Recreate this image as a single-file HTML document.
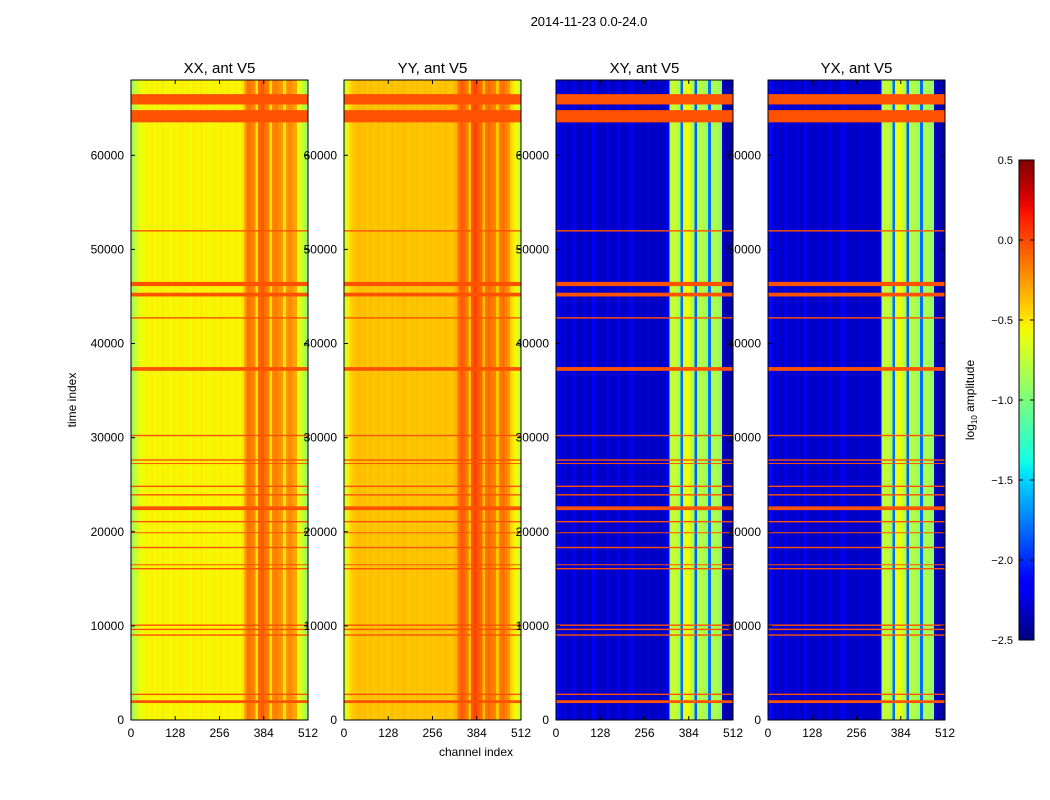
<!DOCTYPE html>
<html><head><meta charset="utf-8">
<style>
html,body{margin:0;padding:0;background:#fff;}
svg{display:block;font-family:"Liberation Sans","DejaVu Sans",sans-serif;}
</style></head>
<body>
<svg id="chart" width="1050" height="800" viewBox="0 0 1050 800" xmlns="http://www.w3.org/2000/svg">
<text x="589" y="26" font-size="13" text-anchor="middle">2014-11-23 0.0-24.0</text>
<text transform="translate(76,400) rotate(-90)" font-size="12" text-anchor="middle">time index</text>
<text x="476" y="756" font-size="12" text-anchor="middle">channel index</text>
<g id="panels"></g>
<g id="labels"></g>
<g id="cbar"></g>
</svg>
<script>
const panelTitles = ["XX, ant V5","YY, ant V5","XY, ant V5","YX, ant V5"];
const xTicks = [0,128,256,384,512];
const yTicks = [0,10000,20000,30000,40000,50000,60000];
const cbarTicks = [-2.5,-2.0,-1.5,-1.0,-0.5,0.0,0.5];
const colXX = [-0.88,-0.75,-0.66,-0.60,-0.57,-0.54,-0.56,-0.53,
 -0.57,-0.54,-0.56,-0.52,-0.56,-0.54,-0.57,-0.53,
 -0.56,-0.54,-0.52,-0.56,-0.54,-0.57,-0.53,-0.54,
 -0.56,-0.52,-0.56,-0.54,-0.57,-0.53,-0.54,-0.56,
 -0.52,-0.56,-0.54,-0.53,-0.56,-0.52,-0.54,-0.56,
 -0.48,-0.22,-0.12,-0.16,-0.20,-0.50,-0.10,-0.05,
 -0.12,-0.18,-0.48,-0.20,-0.16,-0.22,-0.25,-0.50,
 -0.25,-0.20,-0.26,-0.30,-0.58,-0.66,-0.78,-0.90];
const colYY = [-0.68,-0.52,-0.44,-0.40,-0.38,-0.36,-0.39,-0.37,
 -0.40,-0.36,-0.39,-0.41,-0.37,-0.40,-0.38,-0.41,
 -0.39,-0.37,-0.41,-0.38,-0.40,-0.36,-0.39,-0.41,
 -0.38,-0.40,-0.37,-0.41,-0.39,-0.38,-0.40,-0.37,
 -0.41,-0.39,-0.38,-0.40,-0.37,-0.39,-0.41,-0.38,
 -0.34,-0.14,-0.06,-0.10,-0.16,-0.40,-0.04,0.02,
 -0.06,-0.10,-0.38,-0.14,-0.10,-0.16,-0.18,-0.40,
 -0.16,-0.12,-0.18,-0.24,-0.45,-0.52,-0.60,-0.70];
const colXY = [-2.1,-2.25,-2.3,-2.25,-2.33,-2.3,-2.2,-2.3,
 -2.33,-2.3,-2.25,-2.33,-2.3,-2.15,-2.25,-2.33,
 -2.3,-2.33,-2.25,-2.3,-2.33,-2.3,-2.2,-2.3,
 -2.33,-2.3,-2.25,-2.2,-2.33,-2.3,-2.3,-2.33,
 -2.3,-2.25,-2.33,-2.3,-2.3,-2.33,-2.3,-2.3,
 -2.2,-0.80,-0.72,-0.75,-0.85,-1.8,-0.62,-0.58,
 -0.70,-0.85,-1.85,-0.82,-0.78,-0.85,-0.90,-1.8,
 -0.85,-0.80,-0.88,-0.92,-2.3,-2.38,-2.38,-2.4];
const colYX = [-2.1,-2.2,-2.3,-2.25,-2.3,-2.33,-2.2,-2.3,
 -2.3,-2.33,-2.25,-2.3,-2.33,-2.15,-2.3,-2.3,
 -2.33,-2.3,-2.25,-2.33,-2.3,-2.3,-2.2,-2.33,
 -2.3,-2.33,-2.25,-2.2,-2.3,-2.3,-2.33,-2.3,
 -2.33,-2.25,-2.3,-2.3,-2.33,-2.3,-2.3,-2.33,
 -2.2,-0.80,-0.74,-0.75,-0.83,-1.8,-0.62,-0.60,
 -0.70,-0.83,-1.85,-0.82,-0.80,-0.85,-0.90,-1.8,
 -0.85,-0.82,-0.88,-0.94,-2.3,-2.38,-2.38,-2.4];
const flagStart = [65400,63500,51900,46100,45000,42650,37100,30150,27550,27200,24750,23850,22300,21000,19850,18250,16450,16000,10000,9550,8950,2650,1800];
const flagEnd   = [66500,64800,52050,46550,45400,42800,37500,30300,27700,27300,24900,24000,22700,21150,19950,18400,16550,16150,10150,9700,9100,2800,2100];
const flagValue = -0.03;

const NS="http://www.w3.org/2000/svg";
const panelX=[131,344,556,768], PW=177, PT=80, PH=640;
const CH_MAX=512, T_MAX=68000, VMIN=-2.5, VMAX=0.5;
const cols=[colXX,colYY,colXY,colYX];
function el(tag,attrs,parent){const e=document.createElementNS(NS,tag);for(const k in attrs)e.setAttribute(k,attrs[k]);parent.appendChild(e);return e;}
function clamp(v){return Math.max(0,Math.min(1,v));}
function interp(pts,t){for(let i=1;i<pts.length;i++){if(t<=pts[i][0]){const a=pts[i-1],b=pts[i];return a[1]+(b[1]-a[1])*(t-a[0])/(b[0]-a[0]);}}return pts[pts.length-1][1];}
const JR=[[0,0],[0.35,0],[0.66,1],[0.89,1],[1,0.5]];
const JG=[[0,0],[0.125,0],[0.375,1],[0.64,1],[0.91,0],[1,0]];
const JB=[[0,0.5],[0.11,1],[0.34,1],[0.65,0],[1,0]];
function jet(v){const t=clamp((v-VMIN)/(VMAX-VMIN));
 const r=interp(JR,t),g=interp(JG,t),b=interp(JB,t);
 return `rgb(${Math.round(r*255)},${Math.round(g*255)},${Math.round(b*255)})`;}
function xScale(p,ch){return panelX[p]+ch/CH_MAX*PW;}
function yScale(t){return PT+PH-t/T_MAX*PH;}

const labels=document.getElementById('labels');
const panels=document.getElementById('panels');
for(let p=0;p<4;p++){
 for(const t of yTicks){
  const lbl=el('text',{x:panelX[p]-7,y:yScale(t)+4,'font-size':12,'text-anchor':'end'},labels);
  
  
  lbl.textContent=t;
 }
 for(const c of xTicks){
  const lbl=el('text',{x:xScale(p,c),y:PT+PH+17,'font-size':12,'text-anchor':'middle'},labels);
  
  
  lbl.textContent=c;
 }
}
for(let p=0;p<4;p++){
 const g=el('g',{},panels);
 
 
 const ttl=el('text',{x:panelX[p]+PW/2,y:PT-7,'font-size':15,'text-anchor':'middle'},g);
 
 
 ttl.textContent=panelTitles[p];
 const arr=cols[p], bw=CH_MAX/arr.length;
 arr.forEach((v,i)=>{
  const x0=xScale(p,i*bw), x1=xScale(p,(i+1)*bw);
  const r=el('rect',{x:x0,y:PT,width:x1-x0+0.4,height:PH,fill:jet(v),'shape-rendering':'crispEdges'},g);
  
  
 });
 flagStart.forEach((s,i)=>{
  const y0=yScale(flagEnd[i]), y1=yScale(s);
  const r=el('rect',{x:panelX[p],y:y0,width:PW,height:Math.max(1,y1-y0),fill:jet(flagValue)},g);
  
  
 });
 const fr=el('rect',{x:panelX[p],y:PT,width:PW,height:PH,fill:'none',stroke:'#000','stroke-width':1},g);
 
 
 for(const t of yTicks){const y=yScale(t);
  el('line',{x1:panelX[p],x2:panelX[p]+4,y1:y,y2:y,stroke:'#000'},g);
  el('line',{x1:panelX[p]+PW-4,x2:panelX[p]+PW,y1:y,y2:y,stroke:'#000'},g);}
 for(const c of xTicks){const x=xScale(p,c);
  el('line',{x1:x,x2:x,y1:PT+PH,y2:PT+PH-4,stroke:'#000'},g);
  el('line',{x1:x,x2:x,y1:PT,y2:PT+4,stroke:'#000'},g);}
}
// colorbar
const cb=document.getElementById('cbar');


const CX=1019,CW=15,CT=160,CB=640;
const defs=el('defs',{},cb);
const lg=el('linearGradient',{id:'jetg',x1:0,y1:1,x2:0,y2:0},defs);
for(let i=0;i<=40;i++){const v=VMIN+(VMAX-VMIN)*i/40;el('stop',{offset:i/40,'stop-color':jet(v)},lg);}
el('rect',{x:CX,y:CT,width:CW,height:CB-CT,fill:'url(#jetg)',stroke:'#000','stroke-width':1},cb);
for(const v of cbarTicks){const y=CB-(v-VMIN)/(VMAX-VMIN)*(CB-CT);
 el('line',{x1:CX,x2:CX+4,y1:y,y2:y,stroke:'#000'},cb);
 el('line',{x1:CX+CW-4,x2:CX+CW,y1:y,y2:y,stroke:'#000'},cb);
 const t=el('text',{x:CX-6,y:y+4,'font-size':11,'text-anchor':'end'},cb);
 
 
 t.textContent=(v<0?'\u2212':'')+Math.abs(v).toFixed(1);}
const cl=el('text',{transform:'translate(974,400) rotate(-90)','font-size':12,'text-anchor':'middle'},cb);


cl.innerHTML='log<tspan font-size="8" dy="3">10</tspan><tspan dy="-3"> amplitude</tspan>';
</script>
</body></html>
